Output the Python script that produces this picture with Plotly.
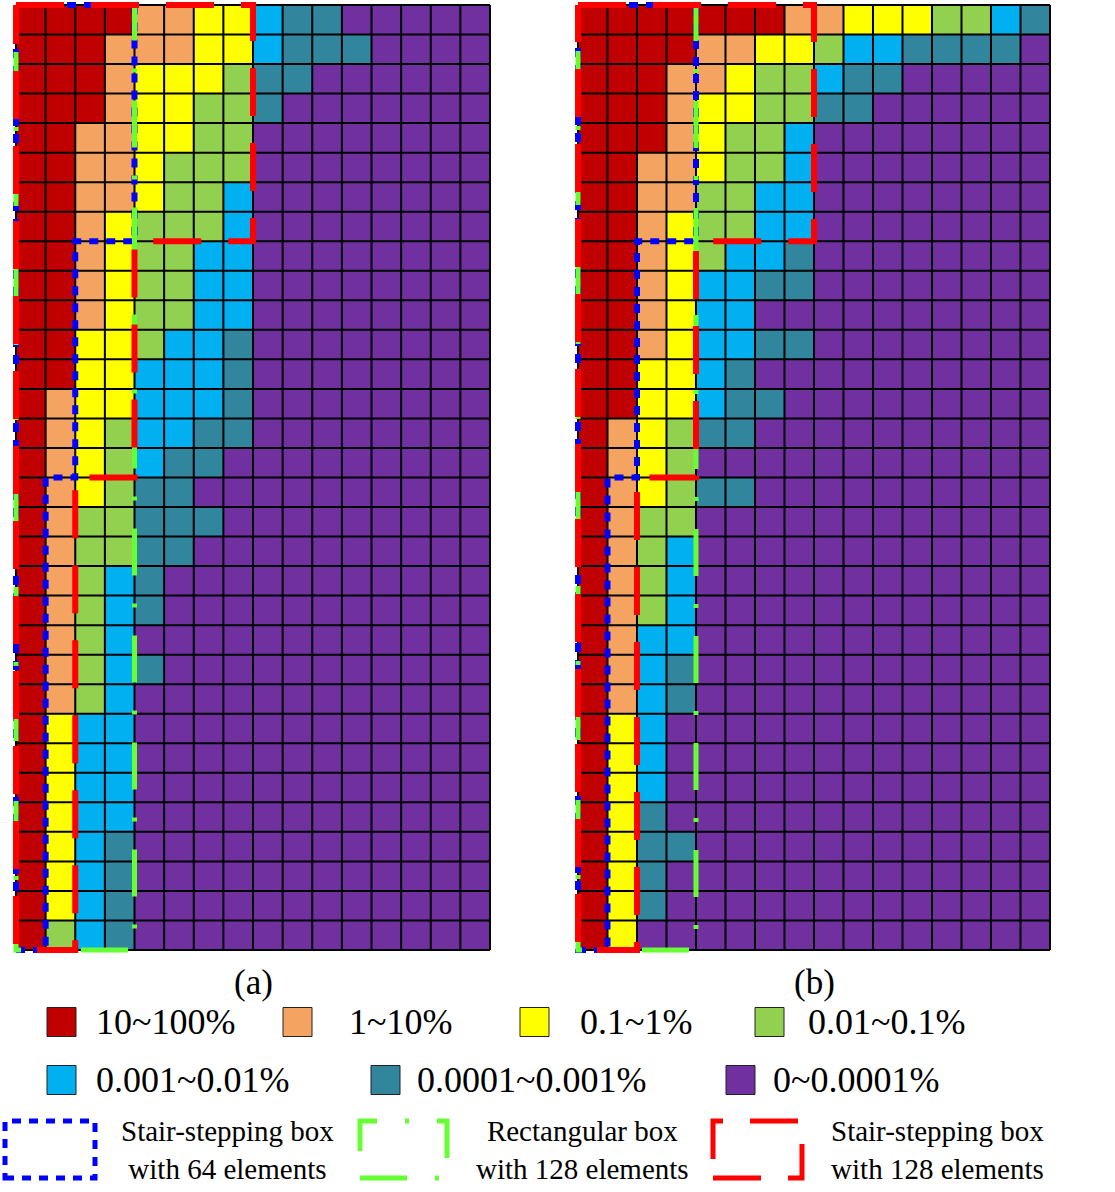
import plotly.graph_objects as go

# ---------------- data ----------------
CATEGORIES = ["10~100%", "1~10%", "0.1~1%", "0.01~0.1%",
              "0.001~0.01%", "0.0001~0.001%", "0~0.0001%"]
CODES = ["R", "O", "Y", "G", "B", "T", "P"]
COLORS = ["#C00000", "#F4A460", "#FFFF00", "#92D050",
          "#00B0F0", "#31859C", "#7030A0"]

# 32 rows (top to bottom) x 16 columns, one letter per element
GRID_A = [
    "RRRROOYYBTTPPPPP",
    "RRROOOYYBTTTPPPP",
    "RRROYYYGTTPPPPPP",
    "RRROYYGGTPPPPPPP",
    "RROOYYGGPPPPPPPP",
    "RROOYGGGPPPPPPPP",
    "RROOYGGBPPPPPPPP",
    "RROYGGGBPPPPPPPP",
    "RROYGGBBPPPPPPPP",
    "RROYGGBBPPPPPPPP",
    "RROYGGBBPPPPPPPP",
    "RRYYGBBTPPPPPPPP",
    "RRYYBBBTPPPPPPPP",
    "ROYYBBBTPPPPPPPP",
    "ROYGBBTTPPPPPPPP",
    "ROYGBTTPPPPPPPPP",
    "ROYGTTPPPPPPPPPP",
    "ROGGTTTPPPPPPPPP",
    "ROGGTTPPPPPPPPPP",
    "ROGBTPPPPPPPPPPP",
    "ROGBTPPPPPPPPPPP",
    "ROGBPPPPPPPPPPPP",
    "ROGBTPPPPPPPPPPP",
    "ROGBPPPPPPPPPPPP",
    "RYBBPPPPPPPPPPPP",
    "RYBBPPPPPPPPPPPP",
    "RYBBPPPPPPPPPPPP",
    "RYBBPPPPPPPPPPPP",
    "RYBTPPPPPPPPPPPP",
    "RYBTPPPPPPPPPPPP",
    "RYBTPPPPPPPPPPPP",
    "RGBTPPPPPPPPPPPP",
]

GRID_B = [
    "RRRRRRROOYYYGGBT",
    "RRRROOYYGBBTTTTP",
    "RRROOYGGBTTPPPPP",
    "RRROYYGGTTPPPPPP",
    "RRROYGGBPPPPPPPP",
    "RROOYGGBPPPPPPPP",
    "RROOGGBBPPPPPPPP",
    "RROYGGBBPPPPPPPP",
    "RROYGBBTPPPPPPPP",
    "RROYBBTTPPPPPPPP",
    "RROYBBPPPPPPPPPP",
    "RROYBBTTPPPPPPPP",
    "RRYYBTPPPPPPPPPP",
    "RRYYBTTPPPPPPPPP",
    "ROYGTTPPPPPPPPPP",
    "ROYGPPPPPPPPPPPP",
    "ROYGTTPPPPPPPPPP",
    "ROGGPPPPPPPPPPPP",
    "ROGBPPPPPPPPPPPP",
    "ROGBPPPPPPPPPPPP",
    "ROGBPPPPPPPPPPPP",
    "ROBBPPPPPPPPPPPP",
    "ROBTPPPPPPPPPPPP",
    "ROBTPPPPPPPPPPPP",
    "RYBPPPPPPPPPPPPP",
    "RYBPPPPPPPPPPPPP",
    "RYBPPPPPPPPPPPPP",
    "RYTPPPPPPPPPPPPP",
    "RYTTPPPPPPPPPPPP",
    "RYTPPPPPPPPPPPPP",
    "RYTPPPPPPPPPPPPP",
    "RYPPPPPPPPPPPPPP",
]

# boxes: list of (number of rows, number of columns from the left)
BOX_STAIR64 = [(8, 4), (8, 2), (16, 1)]
BOX_RECT128 = [(32, 4)]
BOX_STAIR128 = [(8, 8), (8, 4), (16, 2)]

BOX_LABELS = ["Stair-stepping box<br>with 64 elements",
              "Rectangular box<br>with 128 elements",
              "Stair-stepping box<br>with 128 elements"]
PANEL_LABELS = ["(a)", "(b)"]

# ---------------- layout helpers ----------------
W, H = 1115, 1192
FONT = "Times New Roman, Liberation Serif, serif"
NROWS, NCOLS = len(GRID_A), len(GRID_A[0])
PAD = 0.15

BLUE, GREEN, RED = "#0000FF", "#66FF33", "#FF0000"
BLUE_DASH = "9px,8px"
GREEN_DASH = "47px,28px,4px,28px"
RED_DASH = "48px,27px"


def fx(x):
    return x / W


def fy(y):
    return 1 - y / H


def outline(steps):
    widths = []
    for n, w in steps:
        widths += [w] * n
    xs = [-0.5, widths[0] - 0.5]
    ys = [-0.5, -0.5]
    for i in range(1, len(widths)):
        if widths[i] != widths[i - 1]:
            xs += [widths[i - 1] - 0.5, widths[i] - 0.5]
            ys += [i - 0.5, i - 0.5]
    xs += [widths[-1] - 0.5, -0.5, -0.5]
    ys += [len(widths) - 0.5, len(widths) - 0.5, -0.5]
    return xs, ys


colorscale = []
for i, c in enumerate(COLORS):
    colorscale.append([i / len(COLORS), c])
    colorscale.append([(i + 1) / len(COLORS), c])

fig = go.Figure()

panels = [
    (GRID_A, dict(x0=16, x1=490, y0=5, y1=950), "x", "y"),
    (GRID_B, dict(x0=578, x1=1050, y0=5, y1=950), "x2", "y2"),
]

gx, gy = [], []
for c in range(NCOLS + 1):
    gx += [c - 0.5, c - 0.5, None]
    gy += [-0.5, NROWS - 0.5, None]
for r in range(NROWS + 1):
    gx += [-0.5, NCOLS - 0.5, None]
    gy += [r - 0.5, r - 0.5, None]

layout_axes = {}
for k, (grid, px, xa, ya) in enumerate(panels):
    z = [[CODES.index(ch) for ch in row] for row in grid]
    fig.add_trace(go.Heatmap(
        z=z, x=list(range(NCOLS)), y=list(range(NROWS)),
        colorscale=colorscale, zmin=-0.5, zmax=len(COLORS) - 0.5,
        showscale=False, hoverinfo="skip", xaxis=xa, yaxis=ya))
    fig.add_trace(go.Scatter(x=gx, y=gy, mode="lines",
                             line=dict(color="black", width=2),
                             hoverinfo="skip", xaxis=xa, yaxis=ya))
    for steps, color, dash, width in [
        (BOX_STAIR64, BLUE, BLUE_DASH, 6),
        (BOX_RECT128, GREEN, GREEN_DASH, 5),
        (BOX_STAIR128, RED, RED_DASH, 6),
    ]:
        ox, oy = outline(steps)
        fig.add_trace(go.Scatter(x=ox, y=oy, mode="lines",
                                 line=dict(color=color, width=width, dash=dash),
                                 hoverinfo="skip", xaxis=xa, yaxis=ya))
    cw = (px["x1"] - px["x0"]) / NCOLS
    ch = (px["y1"] - px["y0"]) / NROWS
    suffix = "" if k == 0 else "2"
    layout_axes["xaxis" + suffix] = dict(
        domain=[fx(px["x0"] - PAD * cw), fx(px["x1"] + PAD * cw)],
        range=[-0.5 - PAD, NCOLS - 0.5 + PAD], visible=False,
        anchor="y" + suffix)
    layout_axes["yaxis" + suffix] = dict(
        domain=[fy(px["y1"] + PAD * ch), fy(px["y0"] - PAD * ch)],
        range=[NROWS - 0.5 + PAD, -0.5 - PAD], visible=False,
        anchor="x" + suffix)

annotations = []
shapes = []

# panel labels
for lbl, cx in zip(PANEL_LABELS, [253, 814]):
    annotations.append(dict(x=fx(cx), y=fy(982), xref="paper", yref="paper",
                            text=lbl, showarrow=False, xanchor="center",
                            yanchor="middle",
                            font=dict(family=FONT, size=35, color="black")))

# colour legend
legend_pos = [  # (square left, text left, row centre)
    (47, 94, 1022), (283, 347, 1022), (520, 578, 1022), (755, 806, 1022),
    (47, 94, 1080), (371, 415, 1080), (726, 771, 1080),
]
SQ = 29
for (sx, tx, cy), lbl, col in zip(legend_pos, CATEGORIES, COLORS):
    shapes.append(dict(type="rect", xref="paper", yref="paper",
                       x0=fx(sx), x1=fx(sx + SQ),
                       y0=fy(cy - SQ / 2), y1=fy(cy + SQ / 2),
                       fillcolor=col, line=dict(color="#222222", width=1)))
    annotations.append(dict(x=fx(tx), y=fy(cy), xref="paper", yref="paper",
                            text=lbl, showarrow=False, xanchor="left",
                            yanchor="middle",
                            font=dict(family=FONT, size=36, color="black")))

# box legend
box_legend = [  # (box x0, box x1, text centre, colour, dash)
    (5, 95, 227, BLUE, BLUE_DASH),
    (360, 447, 582, GREEN, GREEN_DASH),
    (713, 802, 937, RED, RED_DASH),
]
for (bx0, bx1, tcx, col, dash), lbl in zip(box_legend, BOX_LABELS):
    shapes.append(dict(type="rect", xref="paper", yref="paper",
                       x0=fx(bx0), x1=fx(bx1), y0=fy(1178), y1=fy(1121),
                       line=dict(color=col, width=5, dash=dash)))
    annotations.append(dict(x=fx(tcx), y=fy(1150), xref="paper", yref="paper",
                            text=lbl, showarrow=False, xanchor="center",
                            yanchor="middle", align="center",
                            font=dict(family=FONT, size=29, color="black")))

fig.update_layout(
    width=W, height=H, margin=dict(l=0, r=0, t=0, b=0),
    paper_bgcolor="white", plot_bgcolor="white", showlegend=False,
    annotations=annotations, shapes=shapes, **layout_axes)

fig.write_html("out.html")
